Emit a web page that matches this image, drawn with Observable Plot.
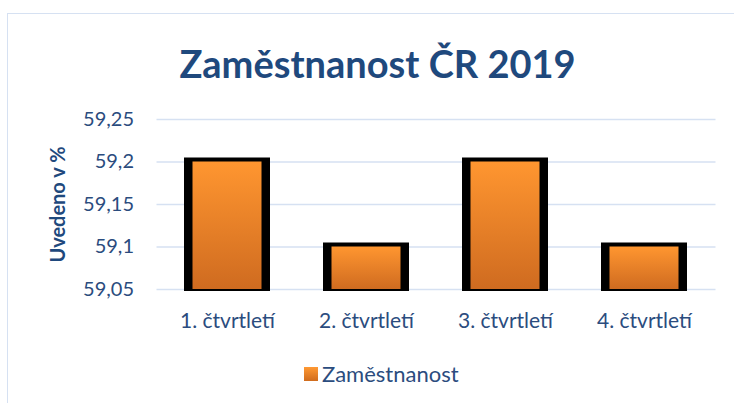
<!DOCTYPE html>
<html>
<head>
<meta charset="utf-8">
<script src="https://cdn.jsdelivr.net/npm/d3@7"></script>
<script src="https://cdn.jsdelivr.net/npm/@observablehq/plot@0.6"></script>
<style>
  html, body { margin: 0; padding: 0; background: #fff; }
  #wrap { position: relative; width: 734px; height: 403px; overflow: hidden; font-family: Lato, "Open Sans", sans-serif; }
  #frame { position: absolute; left: 7px; top: 13px; width: 760px; height: 420px; border: 1.5px solid #D6E1F2; box-sizing: border-box; }
  #title { position: absolute; left: 0; width: 755px; top: 44px; text-align: center; font-weight: 700; font-size: 38px; color: #1F497D; line-height: 1; }
  #chart { position: absolute; left: 0; top: 95px; }
  #legend { position: absolute; top: 360px; left: 304px; display: flex; align-items: center; font-size: 22px; color: #2B4C7E; }
  #legend .sw { width: 14px; height: 14px; background: linear-gradient(#FF9933, #D06C1E); margin-right: 4px; }
</style>
</head>
<body>
<div id="wrap">
  <div id="frame"></div>
  <div id="title">Zaměstnanost ČR 2019</div>
  <div id="chart"></div>
  <div id="legend"><div class="sw"></div><span>Zaměstnanost</span></div>
</div>
<script>
const categories = ["1. čtvrtletí", "2. čtvrtletí", "3. čtvrtletí", "4. čtvrtletí"];
const values = [59.2, 59.1, 59.2, 59.1];
const yTicks = [59.05, 59.1, 59.15, 59.2, 59.25];
const yTickLabels = ["59,05", "59,1", "59,15", "59,2", "59,25"];
const seriesName = "Zaměstnanost";
const yLabel = "Uvedeno v %";

const data = categories.map((c, i) => ({cat: c, val: values[i]}));
const base = yTicks[0];

const plot = Plot.plot({
  width: 734,
  height: 250,
  marginTop: 24,
  marginBottom: 56,
  marginLeft: 156.5,
  marginRight: 18.5,
  style: {fontFamily: "Lato, 'Open Sans', sans-serif", background: "transparent", overflow: "visible"},
  x: {domain: categories, paddingInner: 0.38, paddingOuter: 0.19, label: null},
  y: {domain: [yTicks[0], yTicks[yTicks.length - 1]], label: null},
  marks: [
    Plot.ruleY(yTicks, {stroke: "#D6E1F2", strokeWidth: 1.6}),
    Plot.barY(data, {x: "cat", y1: base, y2: "val", fill: "#000", insetTop: -4, insetBottom: -2}),
    Plot.barY(data, {x: "cat", y1: base, y2: "val", fill: "url(#orangeGrad)", insetLeft: 8.5, insetRight: 8.5}),
    Plot.axisY({ticks: yTicks, tickSize: 0, tickPadding: 23, tickFormat: (d) => yTickLabels[yTicks.indexOf(d)], fontSize: 20, fill: "#2B4C7E", label: null}),
    Plot.axisX({tickSize: 0, tickPadding: 24, fontSize: 21, fill: "#2B4C7E", label: null}),
    Plot.text([yLabel], {frameAnchor: "left", textAnchor: "middle", rotate: -90, dx: -98, fontSize: 20, fontWeight: "bold", fill: "#1F497D"})
  ]
});

// gradient definition for bar fill
const ns = "http://www.w3.org/2000/svg";
const defs = document.createElementNS(ns, "defs");
const grad = document.createElementNS(ns, "linearGradient");
grad.setAttribute("id", "orangeGrad");
grad.setAttribute("x1", "0"); grad.setAttribute("y1", "0");
grad.setAttribute("x2", "0"); grad.setAttribute("y2", "1");
[["0%", "#FF9630"], ["100%", "#CF6B20"]].forEach(([o, c]) => {
  const s = document.createElementNS(ns, "stop");
  s.setAttribute("offset", o); s.setAttribute("stop-color", c);
  grad.appendChild(s);
});
defs.appendChild(grad);
plot.insertBefore(defs, plot.firstChild);

document.getElementById("chart").appendChild(plot);
</script>
</body>
</html>
